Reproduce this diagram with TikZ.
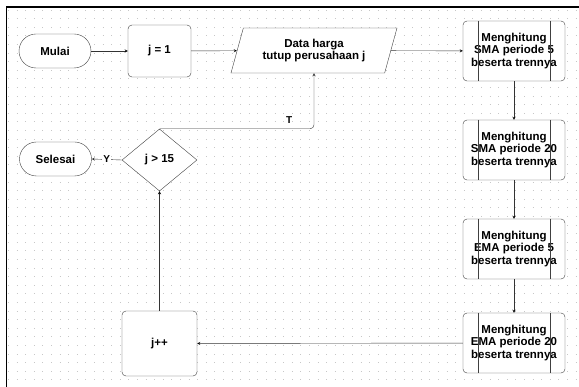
\documentclass[tikz,border=0pt]{standalone}
\usepackage{fontspec}
\setmainfont{Liberation Sans}
\usetikzlibrary{shapes.geometric,arrows,positioning}

\tikzset{
  box font/.style={font=\bfseries\fontsize{11.5}{12.5}\selectfont},
  terminal/.style={box font,rectangle,rounded corners=17pt,draw=black!75,fill=white,minimum width=72pt,minimum height=34pt,inner sep=0pt},
  process/.style={box font,rectangle,rounded corners=4pt,draw=black!75,fill=white,minimum width=63pt,minimum height=52pt,inner sep=0pt},
  inout/.style={box font,trapezium,trapezium left angle=62,trapezium right angle=118,trapezium stretches body,draw=black!75,fill=white,minimum width=166pt,minimum height=45pt,inner sep=0pt,align=center},
  decision/.style={box font,diamond,draw=black!75,fill=white,minimum width=75pt,minimum height=62pt,inner sep=0pt},
  subproc/.style={box font,rectangle,rounded corners=4pt,draw=black!75,fill=white,minimum width=102pt,minimum height=60pt,inner sep=0pt,align=center},
  flow/.style={->,draw=black!80,thin},
  dotgrid/.style={draw=black!22,line width=0.9pt,dash pattern=on 0.9pt off 7.7pt}
}

\begin{document}
\begin{tikzpicture}[x=1pt,y=-1pt,>=stealth]
  \useasboundingbox (0,0) rectangle (579,387);
  % dotted background
  \foreach \gy in {10,18.6,...,387}
    \draw[dotgrid] (8,\gy) -- (579,\gy);
  \draw[line width=1.6pt] (6.5,387) -- (6.5,7) -- (579,7);

  \node[terminal] (mulai) at (55,51) {Mulai};
  \node[process] (j1) at (159.5,51) {j = 1};
  \node[inout] (data) at (314,50.5) {Data harga\\tutup perusahaan j};
  \node[subproc] (sma5) at (514,51) {Menghitung\\SMA periode 5\\beserta trennya};
  \node[subproc] (sma20) at (514,150) {Menghitung\\SMA periode 20\\beserta trennya};
  \node[subproc] (ema5) at (514,249) {Menghitung\\EMA periode 5\\beserta trennya};
  \node[subproc] (ema20) at (514,343) {Menghitung\\EMA periode 20\\beserta trennya};
  \node[process,minimum width=75pt,minimum height=65pt] (jinc) at (159.5,343.5) {j++};
  \node[decision] (cek) at (159.5,160) {j > 15};
  \node[terminal] (selesai) at (55.5,159) {Selesai};

  % inner bars of the subprocess boxes
  \foreach \n in {sma5,sma20,ema5,ema20} {
    \draw[black!75] ([xshift=15pt]\n.north west) -- ([xshift=15pt]\n.south west);
    \draw[black!75] ([xshift=-15pt]\n.north east) -- ([xshift=-15pt]\n.south east);
  }

  \path[flow]
  (mulai) edge (j1)
  (j1) edge (data)
  (data) edge (sma5)
  (sma5) edge (sma20)
  (sma20) edge (ema5)
  (ema5) edge (ema20)
  (ema20) edge (jinc)
  (jinc) edge (cek)
  ;
  \draw[flow] (cek.west) -- (selesai.east)
    node[midway,fill=white,inner sep=1pt,font=\bfseries\fontsize{10}{11}\selectfont] {Y};
  \draw[flow,rounded corners=4pt] (cek.north) -| (data.south)
    node[pos=0.42,above=2pt,font=\bfseries\fontsize{10}{11}\selectfont] {T};
\end{tikzpicture}
\end{document}
